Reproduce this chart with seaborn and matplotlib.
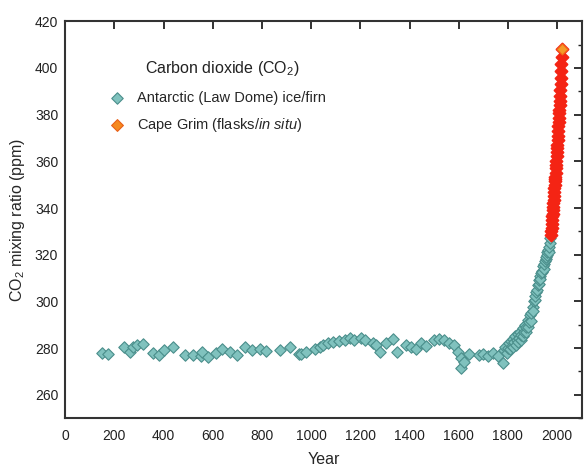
"""CO2 mixing ratio over the last two millennia: Law Dome ice/firn and Cape Grim."""

import matplotlib

matplotlib.use("Agg")
import matplotlib.pyplot as plt
import pandas as pd
import seaborn as sns
from matplotlib.ticker import MultipleLocator


# Antarctic (Law Dome) ice/firn record
LAW_DOME_YEARS = [
    149, 176, 240, 264, 277, 293, 318, 356, 383, 402, 437, 487, 518, 552, 557,
    581, 615, 636, 669, 699, 730, 761, 794, 818, 875, 913, 951, 960, 980, 1014,
    1034, 1048, 1068, 1088, 1113, 1136, 1156, 1176, 1203, 1217, 1251, 1264,
    1278, 1305, 1332, 1348, 1386, 1406, 1427, 1447, 1467, 1501, 1521, 1542,
    1562, 1582, 1596, 1609, 1609, 1623, 1643, 1681, 1700, 1718, 1738, 1758,
    1781, 1785, 1790, 1795, 1800, 1805, 1810, 1812, 1815, 1820, 1822, 1825,
    1830, 1832, 1835, 1840, 1842, 1845, 1850, 1852, 1855, 1860, 1862, 1865,
    1870, 1872, 1875, 1880, 1882, 1885, 1890, 1892, 1895, 1900, 1902, 1905,
    1910, 1912, 1915, 1920, 1922, 1925, 1928, 1930, 1932, 1935, 1938, 1940,
    1942, 1945, 1948, 1950, 1953, 1955, 1958, 1960, 1962, 1965, 1968, 1970,
    1973,
]
LAW_DOME_CO2 = [
    278.0, 277.7, 280.3, 278.5, 280.7, 281.4, 281.8, 278.0, 277.0, 279.0,
    280.3, 277.0, 277.0, 276.7, 278.5, 276.0, 278.0, 279.8, 278.5, 277.0,
    280.3, 279.4, 279.8, 278.8, 279.4, 280.3, 277.3, 277.5, 278.5, 279.8,
    280.5, 281.3, 282.2, 282.6, 283.0, 283.3, 284.4, 283.3, 284.4, 283.3,
    282.0, 281.3, 278.2, 282.0, 284.0, 278.5, 281.3, 280.3, 279.8, 282.0,
    280.8, 283.3, 284.0, 283.6, 282.2, 281.3, 278.5, 275.7, 271.7, 274.0,
    277.5, 277.0, 277.5, 276.7, 277.8, 276.7, 273.6, 279.0, 280.5, 278.0,
    280.0, 282.0, 279.5, 283.0, 281.0, 284.0, 280.5, 282.5, 285.0, 281.5,
    283.5, 286.0, 282.5, 284.5, 287.0, 283.5, 285.5, 288.5, 285.0, 287.0,
    290.0, 287.0, 289.0, 292.0, 289.0, 291.0, 294.0, 291.5, 295.0, 297.5,
    296.0, 300.0, 300.5, 302.5, 304.0, 305.0, 307.0, 307.5, 309.0, 311.0,
    309.5, 312.0, 313.0, 312.5, 315.0, 314.0, 316.0, 317.5, 318.0, 319.0,
    320.0, 321.0, 322.0, 321.0, 323.5, 325.0, 327.0,
]

# Cape Grim (flasks/in situ) annual values
CAPE_GRIM_YEARS = list(range(1976, 2020))
CAPE_GRIM_CO2 = [
    328.5, 330.0, 331.5, 333.0, 335.0, 336.5, 337.5, 339.0, 340.5, 342.0,
    343.5, 345.0, 347.0, 348.5, 350.0, 351.5, 352.5, 353.5, 355.0, 357.0,
    358.5, 360.0, 362.5, 364.0, 365.5, 367.0, 369.0, 371.0, 373.0, 375.0,
    377.0, 378.5, 380.5, 382.0, 384.0, 386.0, 388.0, 390.5, 393.0, 395.5,
    398.5, 401.5, 404.5, 408.0,
]

LEGEND_TITLE = "Carbon dioxide (CO$_2$)"
LAW_DOME_LABEL = "Antarctic (Law Dome) ice/firn"
CAPE_GRIM_LABEL = r"Cape Grim (flasks/$\mathit{in\ situ}$)"


def main():
    sns.set_theme(style="white")
    plt.rcParams["font.family"] = ["Liberation Sans", "DejaVu Sans"]
    plt.rcParams["mathtext.fontset"] = "custom"
    plt.rcParams["mathtext.rm"] = "Liberation Sans"
    plt.rcParams["mathtext.it"] = "Liberation Sans:italic"

    law_df = pd.DataFrame({"Year": LAW_DOME_YEARS, "CO2": LAW_DOME_CO2})
    grim_df = pd.DataFrame({"Year": CAPE_GRIM_YEARS, "CO2": CAPE_GRIM_CO2})

    fig = plt.figure(figsize=(5.87, 4.72), dpi=100)
    ax = fig.add_axes([0.111, 0.114, 0.88, 0.841])

    sns.scatterplot(
        data=law_df, x="Year", y="CO2", ax=ax, marker="D", s=34,
        color="#80c2be", edgecolor="#4a8e8b", linewidth=0.8,
        label=LAW_DOME_LABEL, zorder=3,
    )
    sns.scatterplot(
        data=grim_df, x="Year", y="CO2", ax=ax, marker="D", s=36,
        color="#f42414", edgecolor="#f42414", linewidth=1.5,
        label=CAPE_GRIM_LABEL, zorder=4,
    )
    # the newest Cape Grim value shows orange on top of the red band
    sns.scatterplot(
        x=CAPE_GRIM_YEARS[-1:], y=CAPE_GRIM_CO2[-1:], ax=ax, marker="D", s=30,
        color="#f59a28", edgecolor="#f07018", linewidth=0.8, zorder=5,
        legend=False,
    )

    ax.set_xlim(0, 2100)
    ax.set_ylim(250, 420)
    ax.xaxis.set_major_locator(MultipleLocator(200))
    ax.yaxis.set_major_locator(MultipleLocator(20))
    ax.yaxis.set_minor_locator(MultipleLocator(10))
    ax.tick_params(axis="both", which="both", direction="in", top=True,
                   right=True, labelsize=10, colors="#222222")
    ax.tick_params(axis="x", pad=8)
    ax.tick_params(axis="y", pad=5)
    ax.tick_params(axis="both", which="major", length=6, width=1.3)
    ax.tick_params(axis="y", which="minor", length=3, width=1.0)
    ax.tick_params(axis="x", which="minor", length=0)
    for spine in ax.spines.values():
        spine.set_color("#333333")
        spine.set_linewidth(1.5)

    ax.set_xlabel("Year", fontsize=11.5, labelpad=6)
    ax.set_ylabel("CO$_2$ mixing ratio (ppm)", fontsize=11.5, labelpad=6)

    legend = ax.legend(
        loc="upper left", bbox_to_anchor=(0.06, 0.84), frameon=False,
        fontsize=10.5, handletextpad=0.4, labelspacing=0.75, borderaxespad=0,
    )
    legend.legend_handles[1].set_facecolor("#f5891f")
    legend.legend_handles[1].set_edgecolor("#e8601a")
    legend.legend_handles[1].set_linewidth(0.8)
    ax.text(0.155, 0.882, LEGEND_TITLE, transform=ax.transAxes,
            fontsize=11.5, ha="left", va="center", color="#222222")

    fig.savefig("out.png", dpi=100)
    plt.close(fig)


if __name__ == "__main__":
    main()
